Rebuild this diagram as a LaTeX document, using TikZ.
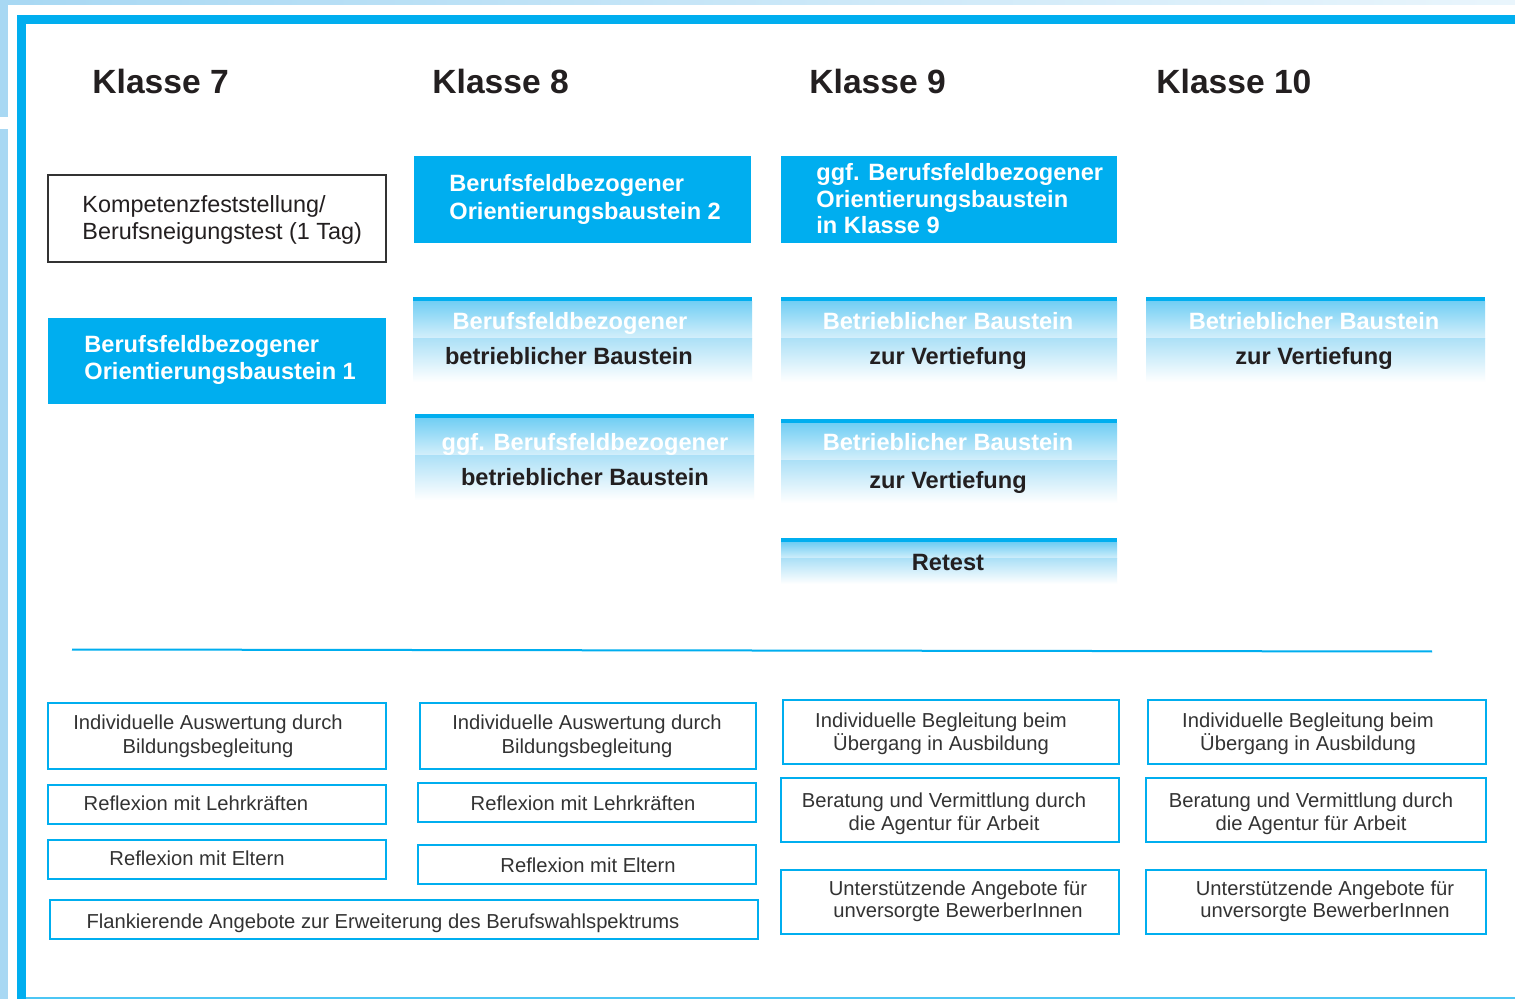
\documentclass[tikz,border=0pt]{standalone}
\usepackage{fontspec}
\setmainfont{Liberation Sans}
\usetikzlibrary{fit}
\definecolor{cyanb}{HTML}{00AEEF}
\definecolor{bgblue}{HTML}{A8D8F3}
\definecolor{txt}{HTML}{231F20}
\definecolor{stx}{HTML}{333333}
\definecolor{gtop}{HTML}{74CFF4}
\definecolor{gmid}{HTML}{D6F0FB}
\definecolor{glow}{HTML}{AEE1F7}
\newcommand\mygradbox[6]{%
  \fill[cyanb] (#2,#3) rectangle (#4,#3+5);
  \shade[top color=gtop, bottom color=gmid] (#2,#3+5) rectangle (#4,#6);
  \shade[top color=glow, bottom color=white] (#2,#6) rectangle (#4,#5);
  \node[inner sep=0pt, fit={(#2,#3) (#4,#5)}] (#1) {};
}
\tikzset{
  hdr/.style={font=\fontsize{16.8}{20}\selectfont\bfseries, text=txt, anchor=base west, inner sep=0pt},
  wtxt/.style={font=\fontsize{11.8}{14}\selectfont\bfseries, text=white, anchor=base west, inner sep=0pt},
  gtw/.style={font=\fontsize{11.8}{14}\selectfont\bfseries, text=white, anchor=base, inner sep=0pt},
  gtd/.style={font=\fontsize{11.8}{14}\selectfont\bfseries, text=txt, anchor=base, inner sep=0pt},
  ktxt/.style={font=\fontsize{11.7}{14}\selectfont, text=txt, anchor=base west, inner sep=0pt},
  stxt/.style={font=\fontsize{10.1}{12}\selectfont, text=stx, anchor=base, inner sep=0pt},
  bluebox/.style={fill=cyanb, inner sep=0pt},
  kbox/.style={draw=stx, line width=1pt, inner sep=0pt},
  sbox/.style={draw=cyanb, line width=1.1pt, inner sep=0pt},
}
\begin{document}
\begin{tikzpicture}[x=0.5pt,y=-0.5pt]
\useasboundingbox (0,0) rectangle (1515,999);
% background and frame
\fill[bgblue] (0,0) rectangle (1515,999);
\fill[white] (8,5) rectangle (1515,999);
\shade[left color=bgblue, right color=bgblue!25] (8,0) rectangle (1515,5);
\fill[white] (0,117) rectangle (8,129);
\fill[cyanb] (17,15) rectangle (1515,24);
\fill[cyanb] (17,15) rectangle (26,999);
\draw[cyanb!70, line width=0.8pt] (26,997.8) -- (1515,997.8);

% headers
\node[hdr] (h7) at (92,94) {Klasse 7};
\node[hdr] (h8) at (432,94) {Klasse 8};
\node[hdr] (h9) at (809,94) {Klasse 9};
\node[hdr] (h10) at (1156,94) {Klasse 10};

% Klasse 7 top
\node[kbox, fit={(48,175) (386,262)}] (kf) {};
\node[ktxt] (kfa) at (82,213) {Kompetenzfeststellung/};
\node[ktxt] (kfb) at (82,240) {Berufsneigungstest (1 Tag)};

\node[bluebox, fit={(48,318) (386,404)}] (o1) {};
\node[wtxt] (o1a) at (84,353) {Berufsfeldbezogener};
\node[wtxt] (o1b) at (84,380) {Orientierungsbaustein 1};

\node[bluebox, fit={(414,156) (751,243)}] (o2) {};
\node[wtxt] (o2a) at (449,192) {Berufsfeldbezogener};
\node[wtxt] (o2b) at (449,220) {Orientierungsbaustein 2};

\node[bluebox, fit={(781,156) (1117,243)}] (o9) {};
\node[wtxt] (o9a) at (816,181) {ggf. Berufsfeldbezogener};
\node[wtxt] (o9b) at (816,208) {Orientierungsbaustein};
\node[wtxt] (o9c) at (816,234) {in Klasse 9};

% gradient boxes
\mygradbox{g81}{413}{297}{752}{382}{339}
\node[gtw] (g81a) at (570,330) {Berufsfeldbezogener};
\node[gtd] (g81b) at (569,365) {betrieblicher Baustein};

\mygradbox{g82}{415}{414}{754}{500}{456}
\node[gtw] (g82a) at (585,451) {ggf. Berufsfeldbezogener};
\node[gtd] (g82b) at (585,486) {betrieblicher Baustein};

\mygradbox{g91}{781}{297}{1117}{382}{339}
\node[gtw] (g91a) at (948,330) {Betrieblicher Baustein};
\node[gtd] (g91b) at (948,365) {zur Vertiefung};

\mygradbox{g92}{781}{419}{1117}{503}{461}
\node[gtw] (g92a) at (948,451) {Betrieblicher Baustein};
\node[gtd] (g92b) at (948,489) {zur Vertiefung};

\mygradbox{gre}{781}{538}{1117}{584}{559}
\node[gtd] (grea) at (948,571) {Retest};

\mygradbox{g10}{1146}{297}{1485}{382}{339}
\node[gtw] (g10a) at (1314,330) {Betrieblicher Baustein};
\node[gtd] (g10b) at (1314,365) {zur Vertiefung};

% separator line
\coordinate (hl1) at (72,649.5);
\coordinate (hl2) at (1432,651.5);
\draw[cyanb, line width=1pt] (hl1) -- (hl2);

% bottom boxes Klasse 7
\node[sbox, fit={(48,703) (386,769)}] (b71) {};
\node[stxt] (b71a) at (208,729) {Individuelle Auswertung durch};
\node[stxt] (b71b) at (208,753) {Bildungsbegleitung};
\node[sbox, fit={(48,785) (386,824)}] (b72) {};
\node[stxt] (b72a) at (196,810) {Reflexion mit Lehrkräften};
\node[sbox, fit={(48,840) (386,879)}] (b73) {};
\node[stxt] (b73a) at (197,865) {Reflexion mit Eltern};
\node[sbox, fit={(50,900) (758,939)}] (b74) {};
\node[stxt] (b74a) at (383,928) {Flankierende Angebote zur Erweiterung des Berufswahlspektrums};

% Klasse 8
\node[sbox, fit={(420,703) (756,769)}] (b81) {};
\node[stxt] (b81a) at (587,729) {Individuelle Auswertung durch};
\node[stxt] (b81b) at (587,753) {Bildungsbegleitung};
\node[sbox, fit={(418,783) (756,822)}] (b82) {};
\node[stxt] (b82a) at (583,810) {Reflexion mit Lehrkräften};
\node[sbox, fit={(418,845) (756,884)}] (b83) {};
\node[stxt] (b83a) at (588,872) {Reflexion mit Eltern};

% Klasse 9
\node[sbox, fit={(783,700) (1119,764)}] (b91) {};
\node[stxt] (b91a) at (941,727) {Individuelle Begleitung beim};
\node[stxt] (b91b) at (941,750) {Übergang in Ausbildung};
\node[sbox, fit={(781,778) (1119,842)}] (b92) {};
\node[stxt] (b92a) at (944,807) {Beratung und Vermittlung durch};
\node[stxt] (b92b) at (944,830) {die Agentur für Arbeit};
\node[sbox, fit={(781,870) (1119,934)}] (b93) {};
\node[stxt] (b93a) at (958,895) {Unterstützende Angebote für};
\node[stxt] (b93b) at (958,917) {unversorgte BewerberInnen};

% Klasse 10
\node[sbox, fit={(1148,700) (1486,764)}] (b101) {};
\node[stxt] (b101a) at (1308,727) {Individuelle Begleitung beim};
\node[stxt] (b101b) at (1308,750) {Übergang in Ausbildung};
\node[sbox, fit={(1146,778) (1486,842)}] (b102) {};
\node[stxt] (b102a) at (1311,807) {Beratung und Vermittlung durch};
\node[stxt] (b102b) at (1311,830) {die Agentur für Arbeit};
\node[sbox, fit={(1146,870) (1486,934)}] (b103) {};
\node[stxt] (b103a) at (1325,895) {Unterstützende Angebote für};
\node[stxt] (b103b) at (1325,917) {unversorgte BewerberInnen};
\end{tikzpicture}
\end{document}
